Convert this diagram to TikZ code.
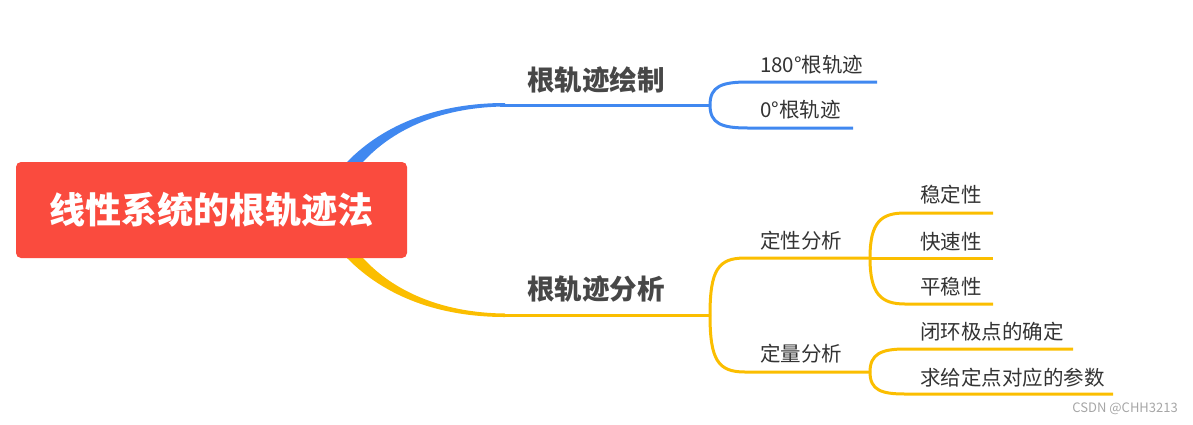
\documentclass[tikz,border=0pt]{standalone}
\usepackage{fontspec}
\setmainfont{Noto Sans CJK SC}
\definecolor{rootred}{HTML}{FA4B3E}
\definecolor{mapblue}{HTML}{4088F0}
\definecolor{mapyellow}{HTML}{FBBE00}
\definecolor{labelgray}{HTML}{333333}

\begin{document}
\begin{tikzpicture}[x=1pt, y=-1pt,
    branch/.style={line width=3pt},
    bigtext/.style={font=\fontsize{27.5}{32}\selectfont\bfseries, text=labelgray!90, inner sep=0pt},
    leaftext/.style={font=\fontsize{20.5}{24}\selectfont, text=labelgray, anchor=west, inner sep=0pt}]

\useasboundingbox (0,0) rectangle (1193,424);

    % Tapered main branches (behind the root box)
    \fill[mapblue] (347,162) .. controls (385,123) and (440,103) .. (505,103)
        -- (505,106.5) .. controls (445,107) and (395,127) .. (363,162)
        -- (363,180) -- (347,180) -- cycle;
    \fill[mapyellow] (347,258) .. controls (385,297) and (440,317) .. (505,317)
        -- (505,313.5) .. controls (445,313) and (395,293) .. (363,258)
        -- (363,240) -- (347,240) -- cycle;

    % Root node
    \node[fill=rootred, rounded corners=5pt, minimum width=391pt, minimum height=96pt,
          text=white, font=\fontsize{36}{42}\selectfont\bfseries] (root) at (211.5,210) {线性系统的根轨迹法};

    % Coordinates of the branch lines
    \coordinate (bs) at (500,105);
    \coordinate (fb) at (710,105);
    \coordinate (b1) at (748,82);   \coordinate (b1e) at (877,82);
    \coordinate (b2) at (748,128);  \coordinate (b2e) at (853,128);

    \coordinate (ys) at (500,315);
    \coordinate (fy) at (710,315);
    \coordinate (y1) at (745,258);  \coordinate (fy1) at (870,258);
    \coordinate (y2) at (745,372);  \coordinate (fy2) at (870,372);
    \coordinate (s1) at (905,213);  \coordinate (s1e) at (993,213);
    \coordinate (s2e) at (993,258);
    \coordinate (s3) at (905,304);  \coordinate (s3e) at (993,304);
    \coordinate (q1) at (905,349);  \coordinate (q1e) at (1073,349);
    \coordinate (q2) at (905,394);  \coordinate (q2e) at (1113,394);

    % Blue branch
    \draw[branch, mapblue] (bs) -- (fb);
    \draw[branch, mapblue] (fb) .. controls +(0,-19) and +(-26,0) .. (b1) -- (b1e);
    \draw[branch, mapblue] (fb) .. controls +(0,19) and +(-26,0) .. (b2) -- (b2e);

    % Yellow branch
    \draw[branch, mapyellow] (ys) -- (fy);
    \draw[branch, mapyellow] (fy) .. controls +(0,-45) and +(-27,0) .. (y1) -- (fy1);
    \draw[branch, mapyellow] (fy) .. controls +(0,45) and +(-27,0) .. (y2) -- (fy2);
    \draw[branch, mapyellow] (fy1) .. controls +(0,-36) and +(-24,0) .. (s1) -- (s1e);
    \draw[branch, mapyellow] (fy1) -- (s2e);
    \draw[branch, mapyellow] (fy1) .. controls +(0,36) and +(-24,0) .. (s3) -- (s3e);
    \draw[branch, mapyellow] (fy2) .. controls +(0,-18) and +(-24,0) .. (q1) -- (q1e);
    \draw[branch, mapyellow] (fy2) .. controls +(0,18) and +(-24,0) .. (q2) -- (q2e);

    % Labels
    \node[bigtext] (drawlbl) at (596,80) {根轨迹绘制};
    \node[bigtext] (analbl) at (596,289) {根轨迹分析};
    \node[leaftext] (deg180) at (760,65) {180°根轨迹};
    \node[leaftext] (deg0) at (760,110) {0°根轨迹};
    \node[leaftext] (qual) at (760,241) {定性分析};
    \node[leaftext] (quant) at (760,354) {定量分析};
    \node[leaftext] (stab) at (920,195) {稳定性};
    \node[leaftext] (fast) at (920,242) {快速性};
    \node[leaftext] (smooth) at (920,287) {平稳性};
    \node[leaftext] (poles) at (920,332) {闭环极点的确定};
    \node[leaftext] (param) at (920,378) {求给定点对应的参数};

    \node[font=\fontsize{13}{14}\selectfont, text=gray!70, anchor=east, inner sep=0pt] (mark) at (1178,409) {CSDN @CHH3213};

\end{tikzpicture}
\end{document}
